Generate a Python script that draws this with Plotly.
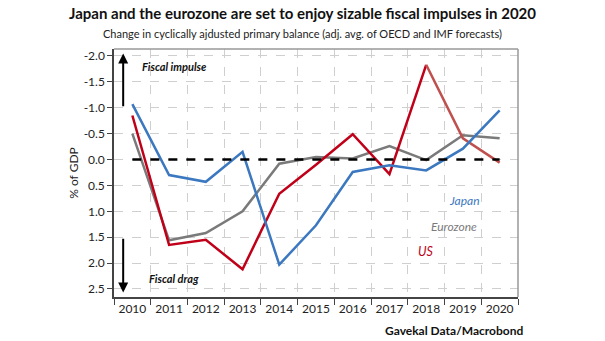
import plotly.graph_objects as go

years = [2010, 2011, 2012, 2013, 2014, 2015, 2016, 2017, 2018, 2019, 2020]
japan = [-1.07, 0.30, 0.43, -0.15, 2.03, 1.27, 0.24, 0.11, 0.21, -0.21, -0.95]
us = [-0.85, 1.65, 1.55, 2.12, 0.66, 0.10, -0.49, 0.28, -1.83, -0.41, 0.06]
eurozone = [-0.50, 1.56, 1.42, 1.00, 0.08, -0.05, -0.02, -0.26, 0.01, -0.47, -0.41]
y_ticks = [-2.0, -1.5, -1.0, -0.5, 0.0, 0.5, 1.0, 1.5, 2.0, 2.5]

FONT = "Lato"
BLUE = "#3b78c0"
RED = "#c00018"
RED2 = "#c0504d"
GRAY = "#7a7a7a"

x = list(range(len(years)))

fig = go.Figure()
fig.add_trace(go.Scatter(x=x, y=eurozone, mode="lines", line=dict(color=GRAY, width=2.5), showlegend=False))
fig.add_trace(go.Scatter(x=x[:9], y=us[:9], mode="lines", line=dict(color=RED, width=2.5), showlegend=False))
fig.add_trace(go.Scatter(x=x[8:], y=us[8:], mode="lines", line=dict(color=RED2, width=2.5), showlegend=False))
fig.add_trace(go.Scatter(x=x, y=japan, mode="lines", line=dict(color=BLUE, width=2.5), showlegend=False))
# zero line
fig.add_trace(go.Scatter(x=[x[0], x[-1]], y=[0, 0], mode="lines",
                         line=dict(color="black", width=2.5, dash="dash"), showlegend=False))

L, R, T, B = 114, 87, 49, 44
plot_w = 605 - L - R
plot_h = 341 - T - B

def px(xp):
    return (xp - L) / plot_w

def py(yp):
    return 1 - (yp - T) / plot_h

fig.update_layout(
    width=605, height=341,
    margin=dict(l=L, r=R, t=T, b=B),
    paper_bgcolor="white", plot_bgcolor="white",
    font=dict(family=FONT, size=12, color="#222"),
    xaxis=dict(
        range=[-0.5, 10.5],
        tickvals=x, ticktext=[str(y) for y in years],
        showgrid=False, ticks="",
        showline=True, linecolor="#444", linewidth=1.5, mirror=False,
        zeroline=False,
        minor=dict(tickvals=[i + 0.5 for i in range(-1, 11)], ticks="outside", ticklen=6,
                   tickcolor="#444", showgrid=True, gridcolor="#cfcfcf", griddash="dash", gridwidth=1),
        tickfont=dict(size=12, color="#222"),
    ),
    yaxis=dict(
        range=[2.655, -2.135],
        tickvals=y_ticks, ticktext=[f"{v:.1f}" for v in y_ticks],
        showgrid=True, gridcolor="#cfcfcf", griddash="dash", gridwidth=1,
        ticks="outside", ticklen=5, tickcolor="#444",
        showline=True, linecolor="#444", linewidth=1.5,
        zeroline=False,
        title=dict(text="% of GDP", font=dict(size=12, color="#222"), standoff=2),
        tickfont=dict(size=12, color="#222"),
    ),
    shapes=[
        dict(type="line", xref="paper", yref="paper", x0=0, x1=1, y0=1, y1=1, line=dict(color="#999", width=1.5)),
        dict(type="line", xref="paper", yref="paper", x0=1, x1=1, y0=0, y1=1, line=dict(color="#999", width=1.5)),
    ],
)

annotations = [
    dict(text="<b>Japan and the eurozone are set to enjoy sizable fiscal impulses in 2020</b>",
         x=px(302), y=py(13), xref="paper", yref="paper", yanchor="middle", showarrow=False,
         font=dict(size=15, color="#111")),
    dict(text="Change in cyclically ajdusted primary balance (adj. avg. of OECD and IMF forecasts)",
         x=px(302), y=py(34), xref="paper", yref="paper", yanchor="middle", showarrow=False,
         font=dict(size=11, color="#222")),
    dict(text="<b><i>Fiscal impulse</i></b>", x=0.2, y=-1.8, xref="x", yref="y", xanchor="left",
         showarrow=False, font=dict(size=11, color="#111")),
    dict(text="<b><i>Fiscal drag</i></b>", x=0.4, y=2.29, xref="x", yref="y", xanchor="left",
         showarrow=False, font=dict(size=11, color="#111")),
    dict(text="<i>Japan</i>", x=9.05, y=0.8, xref="x", yref="y", showarrow=False, font=dict(size=12, color=BLUE)),
    dict(text="<i>Eurozone</i>", x=8.75, y=1.3, xref="x", yref="y", showarrow=False, font=dict(size=12, color=GRAY)),
    dict(text="<i>US</i>", x=8.0, y=1.78, xref="x", yref="y", showarrow=False, font=dict(size=12.5, color=RED)),
    dict(text="<b>Gavekal Data/Macrobond</b>", x=px(525), y=py(330), xref="paper", yref="paper",
         xanchor="right", yanchor="middle", showarrow=False, font=dict(size=12, color="#111")),
    # arrows
    dict(x=-0.25, y=-2.05, ax=-0.25, ay=-1.0, xref="x", yref="y", axref="x", ayref="y",
         text="", showarrow=True, arrowhead=2, arrowsize=1, arrowwidth=2, arrowcolor="black"),
    dict(x=-0.25, y=2.57, ax=-0.25, ay=1.5, xref="x", yref="y", axref="x", ayref="y",
         text="", showarrow=True, arrowhead=2, arrowsize=1, arrowwidth=2, arrowcolor="black"),
]
fig.update_layout(annotations=annotations)

fig.write_html("out.html")
